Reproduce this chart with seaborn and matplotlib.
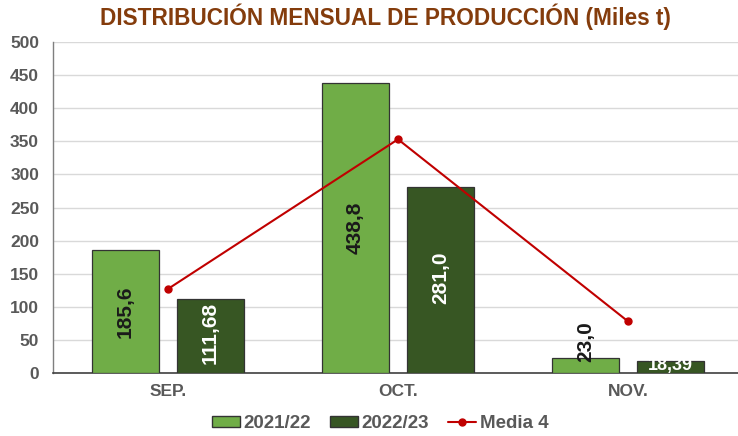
import matplotlib
matplotlib.use("Agg")
import matplotlib.pyplot as plt
import seaborn as sns
import pandas as pd
from matplotlib.patches import Patch
from matplotlib.lines import Line2D

months = ["SEP.", "OCT.", "NOV."]
campaigns = ["2021/22", "2022/23"]
prod_2021 = [185.6, 438.8, 23.0]
prod_2022 = [111.68, 281.0, 18.39]
labels_2021 = ["185,6", "438,8", "23,0"]
labels_2022 = ["111,68", "281,0", "18,39"]
media4 = [127, 353, 78]
yticks = [0, 50, 100, 150, 200, 250, 300, 350, 400, 450, 500]

colors = ["#70AD47", "#375623"]
gray = "#595959"

df = pd.DataFrame({
    "mes": months * 2,
    "campaña": [campaigns[0]] * 3 + [campaigns[1]] * 3,
    "valor": prod_2021 + prod_2022,
})

sns.set_theme(style="white")
plt.rcParams["font.family"] = ["Liberation Sans", "DejaVu Sans"]

fig = plt.figure(figsize=(7.38, 4.36), dpi=100)
ax = fig.add_axes([53 / 738, 1 - 373 / 436, 690 / 738, 331 / 436])

sns.barplot(data=df, x="mes", y="valor", hue="campaña", palette=colors,
            saturation=1, width=0.74, gap=0.216, edgecolor="#333333", linewidth=0.9,
            ax=ax, legend=False, zorder=3)

ax.plot(range(len(months)), media4, color="#C00000", lw=1.5, marker="o",
        markersize=5, zorder=4)

# labels
containers = ax.containers
for i, bar in enumerate(containers[0]):
    x = bar.get_x() + bar.get_width() / 2
    h = bar.get_height()
    if h > 60:
        ax.text(x, h / 2, labels_2021[i], rotation=90, ha="center", va="center",
                fontsize=15, fontweight="bold", color="#1a1a1a", zorder=5)
    else:
        ax.text(x, h - 6, labels_2021[i], rotation=90, ha="center", va="bottom",
                fontsize=15, fontweight="bold", color="#1a1a1a", zorder=5)
for i, bar in enumerate(containers[1]):
    x = bar.get_x() + bar.get_width() / 2
    h = bar.get_height()
    if h > 60:
        ax.text(x, h / 2 + 4, labels_2022[i], rotation=90, ha="center", va="center",
                fontsize=15, fontweight="bold", color="white", zorder=5)
    else:
        ax.text(x, h / 2 + 2, labels_2022[i], ha="center", va="center",
                fontsize=13, fontweight="bold", color="white", zorder=5)

ax.set_xlim(-0.5, 2.5)
ax.set_ylim(0, 500)
ax.set_yticks(yticks)
ax.set_yticklabels([str(t) for t in yticks])
ax.set_xlabel("")
ax.set_ylabel("")
ax.yaxis.grid(True, color="#D9D9D9", lw=1.0, zorder=0)
ax.set_axisbelow(True)
for s in ["top", "right"]:
    ax.spines[s].set_visible(False)
ax.spines["left"].set_color("#7f7f7f")
ax.spines["bottom"].set_color("#404040")
ax.spines["left"].set_linewidth(1.0)
ax.spines["bottom"].set_linewidth(1.2)

ax.tick_params(axis="y", labelsize=12.5, labelcolor=gray, length=0, pad=10)
ax.tick_params(axis="x", labelsize=12.5, labelcolor=gray, length=0, pad=8)
for lab in ax.get_xticklabels() + ax.get_yticklabels():
    lab.set_fontweight("bold")

# minor ticks between categories
ax.set_xticks([0.5, 1.5], minor=True)
ax.tick_params(axis="x", which="minor", length=5, color="#404040", direction="out")

fig.text(0.522, 0.962, "DISTRIBUCIÓN MENSUAL DE PRODUCCIÓN (Miles t)",
         ha="center", va="center", fontsize=16.3, fontweight="bold", color="#843C0C")

handles = [
    Patch(facecolor=colors[0], edgecolor="#333333", label=campaigns[0]),
    Patch(facecolor=colors[1], edgecolor="#333333", label=campaigns[1]),
    Line2D([0], [0], color="#C00000", lw=1.5, marker="o", markersize=5, label="Media 4"),
]
leg = fig.legend(handles=handles, loc="center", bbox_to_anchor=(0.515, 0.028), ncol=3,
                 frameon=False, handlelength=1.5, handleheight=0.55, columnspacing=1.0,
                 handletextpad=0.2, prop={"size": 13.5, "weight": "bold"})
for t in leg.get_texts():
    t.set_color(gray)

fig.savefig("out.png", dpi=100)
